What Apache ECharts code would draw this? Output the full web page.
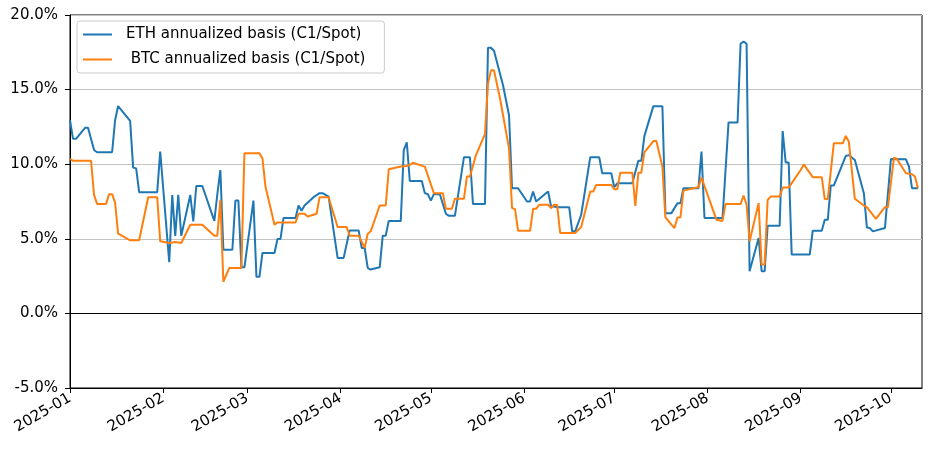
<!DOCTYPE html>
<html>
<head>
<meta charset="utf-8">
<script src="https://cdn.jsdelivr.net/npm/echarts@6/dist/echarts.min.js"></script>
<style>
html,body{margin:0;padding:0;background:#fff;}
#chart{width:939px;height:453px;}
</style>
</head>
<body>
<div id="chart"></div>
<script>
var seriesNames = ['ETH annualized basis (C1/Spot)', ' BTC annualized basis (C1/Spot)'];
var xTickLabels = ['2025-01','2025-02','2025-03','2025-04','2025-05','2025-06','2025-07','2025-08','2025-09','2025-10'];
var yTicks = [-5, 0, 5, 10, 15, 20];

var ethDates = ['2025-01-01','2025-01-02','2025-01-03','2025-01-06','2025-01-07','2025-01-09','2025-01-10','2025-01-15','2025-01-16','2025-01-17','2025-01-21','2025-01-22','2025-01-23','2025-01-24','2025-01-30','2025-01-31',
'2025-02-03','2025-02-04','2025-02-05','2025-02-06','2025-02-07','2025-02-10','2025-02-11','2025-02-12','2025-02-14','2025-02-18','2025-02-19','2025-02-20','2025-02-21','2025-02-24','2025-02-25','2025-02-26','2025-02-27','2025-02-28',
'2025-03-03','2025-03-04','2025-03-05','2025-03-06','2025-03-10','2025-03-11','2025-03-12','2025-03-13','2025-03-17','2025-03-18','2025-03-19','2025-03-20','2025-03-23','2025-03-25','2025-03-26','2025-03-28','2025-03-31',
'2025-04-02','2025-04-04','2025-04-07','2025-04-08','2025-04-09','2025-04-10','2025-04-11','2025-04-14','2025-04-15','2025-04-16','2025-04-17','2025-04-21','2025-04-22','2025-04-23','2025-04-24','2025-04-28','2025-04-29','2025-04-30',
'2025-05-01','2025-05-02','2025-05-04','2025-05-06','2025-05-07','2025-05-09','2025-05-12','2025-05-14','2025-05-15','2025-05-19','2025-05-20','2025-05-21','2025-05-22','2025-05-25','2025-05-27','2025-05-28','2025-05-30',
'2025-06-02','2025-06-03','2025-06-04','2025-06-05','2025-06-09','2025-06-10','2025-06-11','2025-06-12','2025-06-16','2025-06-17','2025-06-18','2025-06-20','2025-06-23','2025-06-26','2025-06-27','2025-06-30',
'2025-07-01','2025-07-02','2025-07-07','2025-07-09','2025-07-10','2025-07-11','2025-07-14','2025-07-17','2025-07-18','2025-07-20','2025-07-22','2025-07-23','2025-07-24','2025-07-29','2025-07-30','2025-07-31',
'2025-08-06','2025-08-08','2025-08-11','2025-08-12','2025-08-13','2025-08-14','2025-08-15','2025-08-18','2025-08-19','2025-08-20','2025-08-21','2025-08-25','2025-08-26','2025-08-27','2025-08-28','2025-08-29',
'2025-09-04','2025-09-05','2025-09-08','2025-09-09','2025-09-10','2025-09-11','2025-09-12','2025-09-16','2025-09-17','2025-09-19','2025-09-22','2025-09-23','2025-09-24','2025-09-25','2025-09-29',
'2025-10-01','2025-10-06','2025-10-07','2025-10-08','2025-10-10'];
var ethValues = [12.95,11.7,11.7,12.44,12.44,10.95,10.8,10.8,12.95,13.9,12.9,9.77,9.72,8.12,8.12,10.84,
3.43,7.94,5.2,7.94,5.2,7.94,6.16,8.54,8.54,6.2,7.99,9.61,4.27,4.27,7.56,7.56,3.09,3.09,
7.56,2.45,2.45,4.05,4.05,4.99,4.99,6.39,6.39,7.23,6.88,7.23,7.79,8.06,8.06,7.83,3.72,
3.72,5.56,5.56,4.39,4.39,3.05,2.94,3.09,5.21,5.21,6.2,6.2,10.95,11.46,8.88,8.88,8.06,7.99,
7.56,7.99,7.99,6.68,6.54,6.54,10.46,10.46,7.34,7.34,17.8,17.8,17.6,15.29,13.28,8.39,8.39,
7.5,7.5,8.17,7.5,8.17,7.16,7.16,7.12,7.12,5.5,5.5,6.61,10.46,10.46,9.39,9.39,
8.46,8.72,8.72,10.23,10.23,11.88,13.89,13.89,6.72,6.72,7.39,7.39,8.39,8.39,10.84,6.39,
6.39,12.8,12.8,18.07,18.22,18.07,2.83,5.05,2.83,2.83,5.87,5.87,12.22,10.12,10.12,3.94,
3.94,5.54,5.54,6.27,6.27,8.57,8.57,10.55,10.61,10.28,8.06,5.76,5.72,5.5,5.72,
10.35,10.33,9.84,8.39,8.39];

var btcDates = ['2025-01-01','2025-01-02','2025-01-08','2025-01-09','2025-01-10','2025-01-13','2025-01-14','2025-01-15','2025-01-16','2025-01-17','2025-01-21','2025-01-24','2025-01-27','2025-01-30','2025-01-31',
'2025-02-03','2025-02-05','2025-02-07','2025-02-10','2025-02-14','2025-02-18','2025-02-19','2025-02-20','2025-02-21','2025-02-23','2025-02-27','2025-02-28',
'2025-03-05','2025-03-06','2025-03-07','2025-03-10','2025-03-11','2025-03-17','2025-03-18','2025-03-20','2025-03-21','2025-03-24','2025-03-25','2025-03-28','2025-03-31',
'2025-04-03','2025-04-04','2025-04-07','2025-04-09','2025-04-10','2025-04-11','2025-04-14','2025-04-16','2025-04-17','2025-04-21','2025-04-23','2025-04-24','2025-04-25','2025-04-29',
'2025-05-02','2025-05-05','2025-05-06','2025-05-08','2025-05-09','2025-05-12','2025-05-13','2025-05-14','2025-05-16','2025-05-19','2025-05-20','2025-05-21','2025-05-22','2025-05-24','2025-05-27','2025-05-28','2025-05-29','2025-05-30',
'2025-06-03','2025-06-04','2025-06-05','2025-06-06','2025-06-09','2025-06-10','2025-06-11','2025-06-12','2025-06-13','2025-06-18','2025-06-20','2025-06-23','2025-06-24','2025-06-25','2025-06-30',
'2025-07-01','2025-07-02','2025-07-03','2025-07-07','2025-07-08','2025-07-09','2025-07-10','2025-07-11','2025-07-14','2025-07-15','2025-07-17','2025-07-18','2025-07-21','2025-07-22','2025-07-23','2025-07-24','2025-07-25','2025-07-29','2025-07-30',
'2025-08-04','2025-08-06','2025-08-07','2025-08-12','2025-08-13','2025-08-14','2025-08-15','2025-08-18','2025-08-19','2025-08-20','2025-08-21','2025-08-22','2025-08-25','2025-08-26','2025-08-28',
'2025-09-01','2025-09-02','2025-09-05','2025-09-08','2025-09-09','2025-09-10','2025-09-12','2025-09-15','2025-09-16','2025-09-17','2025-09-19','2025-09-22','2025-09-23','2025-09-26','2025-09-29','2025-09-30',
'2025-10-02','2025-10-03','2025-10-06','2025-10-08','2025-10-09','2025-10-10'];
var btcValues = [10.35,10.23,10.23,7.94,7.34,7.34,7.99,7.99,7.43,5.34,4.9,4.9,7.79,7.79,4.83,
4.72,4.79,4.72,5.94,5.94,5.21,5.21,7.61,2.12,3.05,3.05,10.73,
10.73,10.39,8.5,5.94,6.09,6.09,6.68,6.68,6.5,6.68,7.79,7.79,5.79,
5.79,5.21,5.21,4.39,5.34,5.5,7.23,7.23,9.66,9.84,9.88,9.95,10.1,9.84,
8.06,8.06,7.01,7.01,7.68,7.68,9.17,9.17,10.61,12.02,15.4,16.29,16.29,14.4,11.06,7.06,6.99,5.54,
5.54,7.01,7.01,7.28,7.28,7.06,7.28,7.28,5.39,5.39,5.79,8.17,8.17,8.61,8.61,
8.32,8.32,9.43,9.43,7.21,9.43,9.43,10.79,11.55,11.55,9.84,6.43,5.72,6.43,6.43,8.23,8.28,8.46,9.1,
6.27,6.2,7.34,7.34,7.9,7.28,4.83,7.39,3.27,3.27,7.61,7.83,7.83,8.43,8.43,
9.61,9.99,9.13,9.13,7.66,7.66,11.4,11.4,11.9,11.5,7.68,7.23,7.12,6.34,7.12,7.12,
10.44,10.35,9.39,9.33,9.17,8.39];

function toTime(s) {
  var p = s.split('-');
  return new Date(+p[0], +p[1] - 1, p.length > 2 ? +p[2] : 1).getTime();
}
function zip(d, v) { return d.map(function (x, i) { return [toTime(x), v[i]]; }); }
var tickTimes = xTickLabels.map(toTime);
var xMin = toTime('2025-01-01');
var xMax = new Date(2025, 9, 11, 8).getTime();
var font = 'DejaVu Sans';
var fs = 15;

var chart = echarts.init(document.getElementById('chart'), null, {renderer: 'canvas'});
chart.setOption({
  animation: false,
  backgroundColor: '#fff',
  textStyle: {fontFamily: font},
  grid: {left: 70, right: 17, top: 15, bottom: 65, show: true, borderColor: '#000', borderWidth: 1, backgroundColor: 'transparent'},
  legend: {
    orient: 'vertical', left: 77, top: 21,
    data: seriesNames,
    itemWidth: 29, itemHeight: 14, itemGap: 10,
    padding: [6, 19, 6, 5],
    borderColor: '#cccccc', borderWidth: 1, borderRadius: 3,
    backgroundColor: 'rgba(255,255,255,0.8)',
    itemStyle: {opacity: 0},
    lineStyle: {width: 2},
    textStyle: {fontFamily: font, fontSize: fs, color: '#000', padding: [0, 0, 0, 9]}
  },
  xAxis: {
    type: 'value', min: xMin, max: xMax,
    axisLine: {show: true, onZero: false, lineStyle: {color: '#000', width: 1}},
    axisTick: {show: true, length: 5, lineStyle: {color: '#000'}, customValues: tickTimes},
    axisLabel: {
      customValues: tickTimes, rotate: 30, color: '#000', fontSize: fs, fontFamily: font, margin: 9,
      formatter: function (v) { return xTickLabels[tickTimes.indexOf(v)] || ''; }
    },
    splitLine: {show: false}
  },
  yAxis: {
    type: 'value', min: -5, max: 20, interval: 5,
    axisLine: {show: true, lineStyle: {color: '#000', width: 1}},
    axisTick: {show: true, length: 5, lineStyle: {color: '#000'}},
    axisLabel: {color: '#000', fontSize: fs, fontFamily: font, margin: 12, formatter: function (v) { return v.toFixed(1) + '%'; }},
    splitLine: {show: true, lineStyle: {color: '#c4c4c4', width: 1}}
  },
  series: [
    {
      name: seriesNames[0], type: 'line', data: zip(ethDates, ethValues), showSymbol: false, symbol: 'none',
      lineStyle: {color: '#1f77b4', width: 2}, itemStyle: {color: '#1f77b4'}, z: 3,
      markLine: {silent: true, symbol: 'none', label: {show: false}, lineStyle: {color: '#000', width: 1, type: 'solid'}, data: [{yAxis: 0}], animation: false}
    },
    {
      name: seriesNames[1], type: 'line', data: zip(btcDates, btcValues), showSymbol: false, symbol: 'none',
      lineStyle: {color: '#ff7f0e', width: 2}, itemStyle: {color: '#ff7f0e'}, z: 4
    }
  ]
});
</script>
</body>
</html>
